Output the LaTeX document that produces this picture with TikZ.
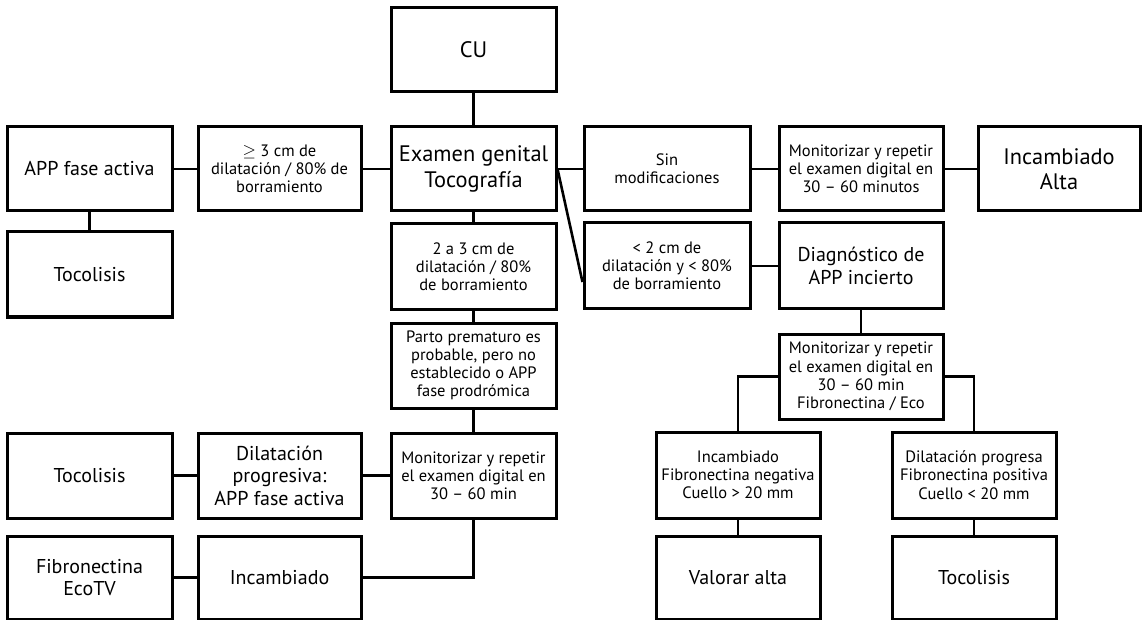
\documentclass[tikz,border=0pt]{standalone}
\usepackage{fontspec}
\setmainfont{PT Sans}
\usetikzlibrary{calc}
\begin{document}
\begin{tikzpicture}[x=1pt,y=-1pt,
  box/.style={draw=black,line width=3pt,fill=white,inner sep=0pt,align=center,
    minimum width=165pt,minimum height=84pt},
  sm/.style={font=\fontsize{16.5}{18.2}\selectfont},
  md/.style={font=\fontsize{20}{22.5}\selectfont},
  lg/.style={font=\fontsize{22.4}{25.5}\selectfont},
  conn/.style={line width=2.6pt}]
\useasboundingbox (0,0) rectangle (1143,620);
% column A
\node[box,md] (app) at (89.5,169) {APP fase activa};
\node[box,md,minimum height=85pt] (toco1) at (89.5,274.5) {Tocolisis};
\node[box,md,minimum height=85pt] (toco2) at (89.5,475.5) {Tocolisis};
\node[box,md,minimum height=83pt] (fib) at (89.5,577.5) {Fibronectina\\EcoTV};
% column B
\node[box,sm,minimum width=163pt] (ge3) at (279.5,169) {$\geq$ 3 cm de\\dilatación / 80\% de\\borramiento};
\node[box,md,minimum width=163pt,minimum height=85pt] (dil) at (279.5,475.5) {Dilatación\\progresiva:\\APP fase activa};
\node[box,md,minimum width=163pt,minimum height=83pt] (inc) at (279.5,577.5) {Incambiado};
% column C
\node[box,lg] (cu) at (473.5,50) {CU};
\node[box,lg] (exam) at (473.5,169) {Examen genital\\Tocografía};
\node[box,sm,minimum height=86pt] (d23) at (473.5,267) {2 a 3 cm de\\dilatación / 80\%\\de borramiento};
\node[box,sm,minimum height=85pt] (parto) at (473.5,365.5) {Parto prematuro es\\probable, pero no\\establecido o APP\\fase prodrómica};
\node[box,sm,minimum height=85pt] (monL) at (473.5,475.5) {Monitorizar y repetir\\el examen digital en\\30 -- 60 min};
% right part
\node[box,sm,minimum width=166pt] (sinmod) at (667,169) {Sin\\modificaciones};
\node[box,sm,minimum width=164pt] (monR) at (861,169) {Monitorizar y repetir\\el examen digital en\\30 -- 60 minutos};
\node[box,lg,minimum width=162pt] (alta) at (1059,169) {Incambiado\\Alta};
\node[box,sm,minimum width=166pt,minimum height=86pt] (lt2) at (667,266) {< 2 cm de\\dilatación y < 80\%\\de borramiento};
\node[box,md,minimum width=164pt,minimum height=86pt] (diag) at (861,266) {Diagnóstico de\\APP incierto};
\node[box,sm,minimum width=164pt,minimum height=85pt] (monR2) at (861,376.5) {Monitorizar y repetir\\el examen digital en\\30 -- 60 min\\Fibronectina / Eco};
\node[box,sm,minimum width=164pt,minimum height=86pt] (incneg) at (738,475) {Incambiado\\Fibronectina negativa\\Cuello > 20 mm};
\node[box,sm,minimum width=164pt,minimum height=86pt] (dilpos) at (974,475) {Dilatación progresa\\Fibronectina positiva\\Cuello < 20 mm};
\node[box,md,minimum width=164pt,minimum height=83pt] (valorar) at (738,577.5) {Valorar alta};
\node[box,md,minimum width=164pt,minimum height=83pt] (toco3) at (974,577.5) {Tocolisis};
\coordinate (lt2in) at ($(lt2.west)+(0,16)$);
% connectors
\draw[conn] (cu.south) -- (exam.north);
\draw[conn] (app.east) -- (ge3.west);
\draw[conn] (ge3.east) -- (exam.west);
\draw[conn] (app.south) -- (toco1.north);
\draw[conn] (exam.east) -- (sinmod.west);
\draw[conn] (sinmod.east) -- (monR.west);
\draw[conn] (monR.east) -- (alta.west);
\draw[conn] (exam.east) -- (lt2in);
\draw[conn] (exam.south) -- (d23.north);
\draw[conn] (d23.south) -- (parto.north);
\draw[conn] (parto.south) -- (monL.north);
\draw[conn] (monL.west) -- (dil.east);
\draw[conn] (dil.west) -- (toco2.east);
\draw[conn] (monL.south) |- (inc.east);
\draw[conn] (inc.west) -- (fib.east);
\draw[conn] (lt2.east) -- (diag.west);
\draw[conn] (diag.south) -- (monR2.north);
\draw[conn] (monR2.west) -| (incneg.north);
\draw[conn] (monR2.east) -| (dilpos.north);
\draw[conn] (incneg.south) -- (valorar.north);
\draw[conn] (dilpos.south) -- (toco3.north);
\end{tikzpicture}
\end{document}
